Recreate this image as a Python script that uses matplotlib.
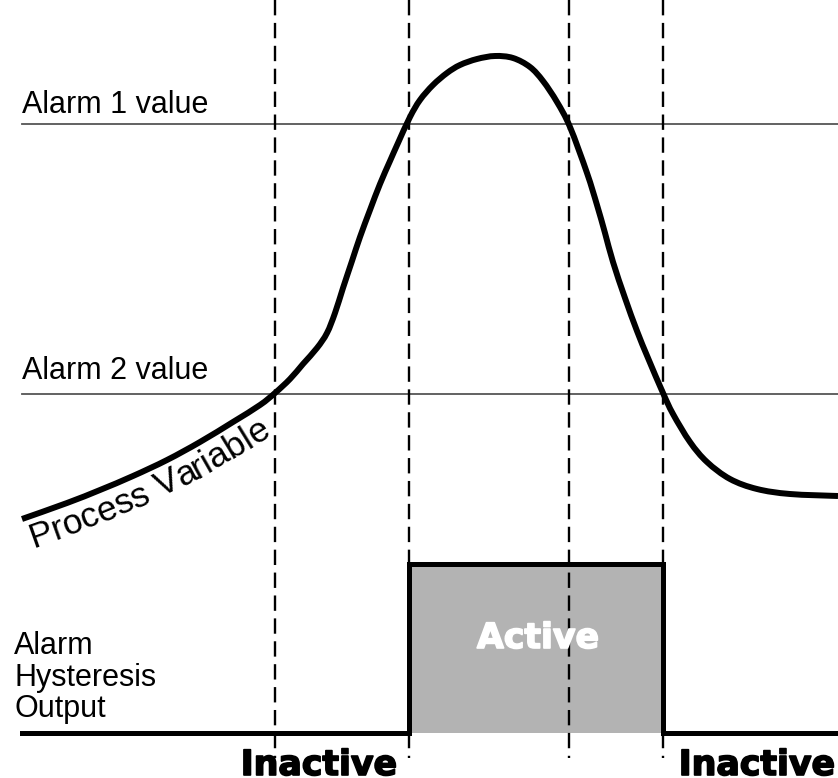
import numpy as np
import matplotlib
matplotlib.use("Agg")
import matplotlib.pyplot as plt
import matplotlib.patheffects as pe
from matplotlib.font_manager import FontProperties
from matplotlib.path import Path
from matplotlib.patches import PathPatch

# Process variable trace (pixel-space coordinates, y grows downward)
pv_x = [22, 67, 100, 133, 167, 200, 233, 260, 275, 290, 303, 317, 327, 335, 343,
        352, 360, 370, 380, 390, 398, 410, 420, 433, 447, 460, 477, 495, 513, 530,
        543, 557, 570, 587, 597, 605, 613, 625, 637, 648, 663, 673, 690, 707, 730,
        757, 790, 838]
pv_y = [519, 503, 490, 476, 460, 442, 422, 405, 393, 379, 364, 348, 333, 313, 288,
        261, 237, 210, 184, 161, 143, 117, 100, 85, 73, 65, 59, 56, 58, 67,
        81, 102, 127, 173, 205, 233, 262, 298, 331, 358, 393, 414, 442, 462, 479,
        489, 494, 496]

# Alarm set points
alarm_levels = [124, 394]
alarm_labels = ["Alarm 1 value", "Alarm 2 value"]
alarm_label_base = [113, 379]

# Crossing instants
cross_x = [275, 409, 569, 663]

# Hysteresis output: low / high levels and switching instants
out_low, out_high = 733, 564
out_on, out_off = 409, 663

W, H = 838, 778
fig = plt.figure(figsize=(W / 100, H / 100), dpi=100)
ax = fig.add_axes([0, 0, 1, 1])
ax.set_xlim(0, W)
ax.set_ylim(H, 0)
ax.axis("off")

reg = FontProperties(family="Liberation Sans", size=22)
bold = FontProperties(family="DejaVu Sans", weight="bold", size=25)


def smooth_path(xs, ys):
    """Catmull-Rom through the points, as cubic Bezier segments."""
    p = np.column_stack([xs, ys]).astype(float)
    p_ext = np.vstack([p[0], p, p[-1]])
    verts = [p[0]]
    codes = [Path.MOVETO]
    for i in range(len(p) - 1):
        p0, p1, p2, p3 = p_ext[i], p_ext[i + 1], p_ext[i + 2], p_ext[i + 3]
        verts += [p1 + (p2 - p0) / 6, p2 - (p3 - p1) / 6, p2]
        codes += [Path.CURVE4] * 3
    return Path(verts, codes)


# alarm threshold lines and labels
for lvl, lab, base in zip(alarm_levels, alarm_labels, alarm_label_base):
    ax.plot([22, W], [lvl, lvl], color="#555555", lw=1.3, zorder=2)
    ax.text(22, base, lab, fontproperties=reg, ha="left", va="baseline")

# vertical dashed markers
for cx in cross_x:
    ax.plot([cx, cx], [0, 758], color="black", lw=1.7,
            linestyle=(0, (6.5, 3.2)), zorder=4)

# process variable curve
pv_path = smooth_path(pv_x, pv_y)
ax.add_patch(PathPatch(pv_path, facecolor="none", edgecolor="black", lw=4.3,
                       capstyle="butt", joinstyle="round", zorder=3))

# hysteresis output
ax.fill_between([out_on, out_off], out_high, out_low, color="#b3b3b3", lw=0, zorder=1)
step_x = [22, out_on, out_on, out_off, out_off, W]
step_y = [out_low, out_low, out_high, out_high, out_low, out_low]
ax.plot(step_x, step_y, color="black", lw=3.6, solid_joinstyle="miter", zorder=3)

ax.text((out_on + out_off) / 2 + 2, 648, "Active", color="white",
        fontproperties=bold, ha="center", va="baseline", zorder=5,
        path_effects=[pe.withStroke(linewidth=1.2, foreground="white")])
for cx in (319, 757):
    ax.text(cx, 775, "Inactive", fontproperties=bold, ha="center", va="baseline",
            path_effects=[pe.withStroke(linewidth=1.2, foreground="black")])

ax.text(14, 717, "Alarm\nHysteresis\nOutput", fontproperties=reg,
        ha="left", va="baseline", linespacing=1.06)

# "Process Variable" written along the curve, just below it
label = "Process Variable"
lab_prop = FontProperties(family="Liberation Sans", size=25.5)
lead = smooth_path(pv_x[:10], pv_y[:10]).to_polygons(closed_only=False)[0]
keep = np.concatenate([[True], np.hypot(*np.diff(lead, axis=0).T) > 1e-6])
lead = lead[keep]
px, py = lead[:, 0], lead[:, 1]
tx = np.gradient(px)
ty = np.gradient(py)
norm = np.hypot(tx, ty)
tx, ty = tx / norm, ty / norm
offset = 31
ox = px - ty * offset
oy = py + tx * offset
seg = np.hypot(np.diff(ox), np.diff(oy))
arc = np.concatenate([[0], np.cumsum(seg)])

renderer = fig.canvas.get_renderer()


def text_w(s):
    w, _, _ = renderer.get_text_width_height_descent(s, lab_prop, ismath=False)
    return w


start = 1.0
for i, ch in enumerate(label):
    if ch == " ":
        continue
    s = start + text_w(label[:i]) + text_w(ch) / 2
    cxp = np.interp(s, arc, ox)
    cyp = np.interp(s, arc, oy)
    dx = np.interp(s, arc, tx)
    dy = np.interp(s, arc, ty)
    ang = np.degrees(np.arctan2(-dy, dx))
    ax.text(cxp, cyp, ch, fontproperties=lab_prop, ha="center", va="baseline",
            rotation=ang, rotation_mode="anchor")

fig.savefig("out.png", dpi=100)
